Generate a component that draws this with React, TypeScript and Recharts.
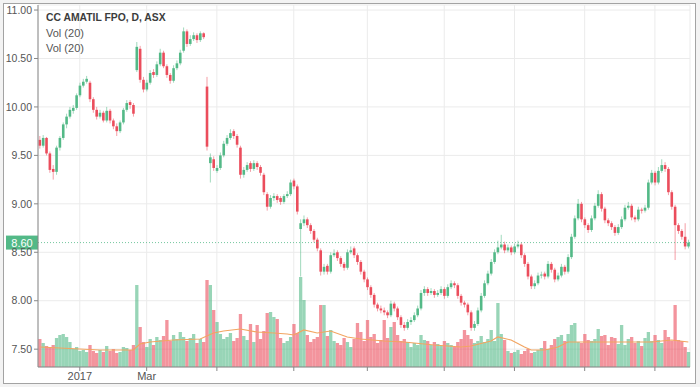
import { ComposedChart, Bar, Line, XAxis, YAxis, CartesianGrid, ReferenceLine } from 'recharts';

// CC AMATIL FPO, daily candles + volume
const opens = [
  9.66, 9.60, 9.68, 9.52, 9.36, 9.33, 9.58, 9.68, 9.82, 9.90,
  9.96, 9.99, 10.12, 10.22, 10.26, 10.25, 10.08, 9.97, 9.90, 9.94,
  9.86, 9.96, 9.86, 9.80, 9.75, 9.84, 9.97, 10.05, 10.02, 10.38,
  10.60, 10.28, 10.18, 10.25, 10.36, 10.33, 10.44, 10.56, 10.42, 10.33,
  10.27, 10.40, 10.45, 10.58, 10.78, 10.65, 10.70, 10.74, 10.69, 10.76,
  10.21, 9.42, 9.46, 9.34, 9.37, 9.50, 9.62, 9.68, 9.75, 9.70,
  9.58, 9.30, 9.35, 9.42, 9.36, 9.42, 9.38, 9.30, 9.10, 8.97,
  9.06, 9.08, 9.06, 9.02, 9.08, 9.10, 9.24, 9.18, 8.74, 8.80,
  8.84, 8.78, 8.72, 8.63, 8.52, 8.30, 8.36, 8.30, 8.47, 8.50,
  8.44, 8.38, 8.34, 8.50, 8.54, 8.47, 8.40, 8.30, 8.22, 8.14,
  8.06, 7.96, 7.92, 7.90, 7.88, 7.85, 7.97, 7.92, 7.83, 7.75,
  7.72, 7.78, 7.80, 7.85, 7.92, 8.08, 8.12, 8.08, 8.10, 8.06,
  8.08, 8.12, 8.05, 8.14, 8.18, 8.16, 8.05, 7.98, 7.96, 7.88,
  7.72, 7.76, 7.90, 8.05, 8.18, 8.28, 8.40, 8.50, 8.55, 8.58,
  8.52, 8.55, 8.50, 8.56, 8.58, 8.47, 8.38, 8.25, 8.15, 8.18,
  8.26, 8.28, 8.25, 8.38, 8.32, 8.22, 8.26, 8.35, 8.30, 8.45,
  8.66, 8.85, 9.00, 8.84, 8.78, 8.73, 8.85, 8.98, 9.10, 8.95,
  8.83, 8.80, 8.76, 8.70, 8.76, 8.84, 8.96, 8.98, 8.86, 8.84,
  8.94, 8.93, 8.96, 9.22, 9.32, 9.22, 9.34, 9.40, 9.36, 9.12,
  8.97, 8.78, 8.72, 8.66, 8.56,
];
const highs = [
  9.70, 9.71, 9.69, 9.54, 9.40, 9.60, 9.70, 9.84, 9.93, 10.00,
  10.02, 10.14, 10.25, 10.29, 10.32, 10.27, 10.10, 10.00, 9.97, 9.96,
  10.00, 9.98, 9.88, 9.83, 9.86, 9.99, 10.07, 10.07, 10.04, 10.67,
  10.63, 10.31, 10.28, 10.38, 10.39, 10.47, 10.60, 10.58, 10.44, 10.35,
  10.43, 10.48, 10.59, 10.82, 10.80, 10.74, 10.77, 10.76, 10.78, 10.77,
  10.31, 9.52, 9.49, 9.40, 9.53, 9.65, 9.71, 9.77, 9.77, 9.72,
  9.60, 9.38, 9.43, 9.44, 9.45, 9.44, 9.40, 9.32, 9.12, 9.09,
  9.11, 9.10, 9.08, 9.10, 9.13, 9.25, 9.26, 9.20, 8.84, 8.88,
  8.86, 8.80, 8.74, 8.65, 8.54, 8.38, 8.38, 8.50, 8.53, 8.52,
  8.46, 8.40, 8.53, 8.56, 8.56, 8.49, 8.42, 8.32, 8.24, 8.16,
  8.08, 7.98, 7.95, 7.93, 7.90, 8.00, 7.99, 7.94, 7.85, 7.78,
  7.81, 7.83, 7.88, 7.95, 8.11, 8.15, 8.14, 8.13, 8.12, 8.11,
  8.15, 8.14, 8.17, 8.21, 8.20, 8.18, 8.07, 8.00, 7.98, 7.90,
  7.79, 7.93, 8.08, 8.21, 8.31, 8.43, 8.53, 8.62, 8.68, 8.61,
  8.58, 8.57, 8.59, 8.62, 8.60, 8.49, 8.40, 8.27, 8.21, 8.29,
  8.30, 8.30, 8.41, 8.40, 8.34, 8.29, 8.38, 8.37, 8.48, 8.69,
  8.88, 9.05, 9.02, 8.86, 8.80, 8.88, 9.01, 9.14, 9.12, 8.97,
  8.85, 8.82, 8.78, 8.79, 8.87, 8.99, 9.02, 9.00, 8.88, 8.97,
  8.96, 8.99, 9.25, 9.35, 9.34, 9.38, 9.46, 9.43, 9.38, 9.14,
  8.99, 8.80, 8.74, 8.80, 8.63,
];
const lows = [
  9.57, 9.58, 9.50, 9.32, 9.25, 9.30, 9.55, 9.66, 9.78, 9.88,
  9.93, 9.97, 10.10, 10.20, 10.24, 10.05, 9.94, 9.87, 9.88, 9.84,
  9.84, 9.83, 9.77, 9.70, 9.73, 9.82, 9.95, 9.98, 9.90, 10.36,
  10.25, 10.15, 10.16, 10.23, 10.30, 10.31, 10.42, 10.40, 10.30, 10.24,
  10.25, 10.38, 10.43, 10.56, 10.62, 10.63, 10.68, 10.66, 10.67, 10.70,
  9.55, 9.22, 9.34, 9.32, 9.35, 9.48, 9.60, 9.66, 9.67, 9.58,
  9.26, 9.27, 9.33, 9.33, 9.34, 9.35, 9.29, 9.09, 8.93, 8.95,
  9.03, 9.01, 8.99, 9.00, 9.06, 9.08, 9.15, 8.89, 8.25, 8.77,
  8.75, 8.69, 8.60, 8.51, 8.26, 8.27, 8.27, 8.28, 8.45, 8.41,
  8.35, 8.31, 8.32, 8.48, 8.44, 8.37, 8.27, 8.19, 8.11, 8.03,
  7.93, 7.89, 7.87, 7.85, 7.82, 7.83, 7.89, 7.80, 7.72, 7.69,
  7.70, 7.75, 7.78, 7.83, 7.90, 8.05, 8.05, 8.06, 8.03, 8.04,
  8.06, 8.02, 8.03, 8.12, 8.13, 8.02, 7.95, 7.93, 7.85, 7.69,
  7.69, 7.74, 7.88, 8.03, 8.16, 8.26, 8.38, 8.48, 8.53, 8.49,
  8.50, 8.47, 8.48, 8.54, 8.44, 8.35, 8.22, 8.12, 8.12, 8.16,
  8.23, 8.22, 8.23, 8.29, 8.19, 8.20, 8.24, 8.27, 8.28, 8.43,
  8.64, 8.83, 8.81, 8.75, 8.70, 8.71, 8.83, 8.96, 8.92, 8.80,
  8.77, 8.73, 8.67, 8.68, 8.74, 8.82, 8.94, 8.83, 8.81, 8.82,
  8.90, 8.91, 8.94, 9.20, 9.19, 9.20, 9.32, 9.33, 9.09, 8.94,
  8.42, 8.69, 8.63, 8.53, 8.54,
];
const closes = [
  9.60, 9.68, 9.52, 9.35, 9.33, 9.58, 9.68, 9.82, 9.90, 9.97,
  9.99, 10.12, 10.22, 10.26, 10.29, 10.08, 9.97, 9.90, 9.94, 9.86,
  9.96, 9.86, 9.80, 9.75, 9.84, 9.97, 10.04, 10.02, 9.93, 10.62,
  10.28, 10.18, 10.25, 10.35, 10.33, 10.44, 10.56, 10.42, 10.33, 10.27,
  10.40, 10.45, 10.56, 10.78, 10.65, 10.70, 10.74, 10.69, 10.76, 10.72,
  9.59, 9.48, 9.37, 9.37, 9.50, 9.62, 9.68, 9.73, 9.70, 9.61,
  9.30, 9.35, 9.40, 9.36, 9.42, 9.38, 9.32, 9.12, 8.97, 9.06,
  9.08, 9.04, 9.02, 9.08, 9.10, 9.22, 9.18, 8.92, 8.80, 8.84,
  8.78, 8.72, 8.63, 8.54, 8.30, 8.35, 8.30, 8.47, 8.49, 8.44,
  8.38, 8.34, 8.50, 8.52, 8.47, 8.40, 8.30, 8.22, 8.14, 8.06,
  7.96, 7.92, 7.90, 7.88, 7.85, 7.97, 7.92, 7.83, 7.75, 7.72,
  7.78, 7.80, 7.85, 7.92, 8.08, 8.12, 8.08, 8.10, 8.06, 8.08,
  8.12, 8.05, 8.14, 8.18, 8.16, 8.05, 7.98, 7.96, 7.88, 7.72,
  7.76, 7.90, 8.05, 8.18, 8.28, 8.40, 8.50, 8.55, 8.58, 8.52,
  8.55, 8.50, 8.56, 8.58, 8.47, 8.38, 8.25, 8.15, 8.18, 8.26,
  8.27, 8.25, 8.38, 8.32, 8.22, 8.26, 8.35, 8.30, 8.45, 8.66,
  8.85, 9.00, 8.84, 8.78, 8.73, 8.85, 8.98, 9.10, 8.95, 8.83,
  8.80, 8.76, 8.70, 8.76, 8.84, 8.96, 8.98, 8.86, 8.84, 8.94,
  8.93, 8.96, 9.22, 9.32, 9.22, 9.34, 9.40, 9.36, 9.12, 8.97,
  8.78, 8.72, 8.66, 8.56, 8.60,
];
// volume, millions of shares
const volumes = [
  2.8, 2.4, 2.1, 2.0, 2.2, 2.9, 3.2, 3.3, 3.0, 2.5,
  1.8, 2.0, 1.6, 1.7, 1.5, 2.2, 1.6, 1.4, 1.7, 1.5,
  2.1, 1.6, 1.8, 1.4, 1.5, 2.0, 1.9, 1.7, 2.2, 8.2,
  4.0, 2.5, 2.0, 2.8, 2.2, 3.0, 2.7, 3.1, 4.7, 2.6,
  3.2, 2.8, 3.5, 3.0, 2.6, 2.9, 3.3, 2.4, 2.8, 2.5,
  8.7, 8.2, 5.7, 4.5, 3.3, 2.8, 3.0, 3.4, 2.6, 2.9,
  5.3, 3.1, 2.7, 4.3, 2.5, 4.2, 2.8, 3.6, 5.4, 5.5,
  5.0, 4.8, 2.9, 2.4, 2.6, 3.0, 4.3, 3.4, 9.0, 6.7,
  3.2, 2.5, 2.8, 3.0, 6.2, 6.2, 3.1, 3.7, 2.6, 2.4,
  2.2, 2.9, 2.5, 2.0, 2.8, 4.4, 3.5, 2.6, 4.7, 3.0,
  3.3, 2.4, 2.7, 4.7, 2.9, 4.0, 4.5, 3.2, 2.6, 2.8,
  2.5, 2.0, 2.4, 2.2, 3.2, 2.7, 2.6, 2.2, 2.5, 2.3,
  2.1, 2.6, 2.4, 2.2, 2.0, 2.5, 2.8, 3.7, 3.2, 2.8,
  2.4, 2.6, 3.1, 2.5, 2.8, 3.7, 2.6, 6.4, 3.3, 2.7,
  1.6, 1.4, 1.5, 1.7, 1.3, 1.6, 1.8, 1.4, 1.5, 1.7,
  1.9, 2.6, 1.8, 2.2, 2.8, 3.0, 3.2, 2.6, 3.3, 4.2,
  4.4, 2.5, 2.4, 3.3, 2.7, 2.6, 2.8, 3.8, 3.1, 3.2,
  2.2, 3.0, 2.9, 2.3, 4.2, 2.2, 2.8, 3.0, 2.4, 2.6,
  2.1, 2.9, 3.5, 2.6, 3.2, 2.7, 2.4, 3.7, 3.0, 2.6,
  6.2, 2.7, 2.6, 2.0, 1.5,
];
// Vol(20) average, read at a handful of points
const maIdx = [0, 6, 12, 18, 24, 28, 30, 33, 40, 48, 52, 55, 60, 65, 70, 74, 76, 79, 83, 87, 92, 96, 103, 109, 118, 126, 129, 135, 137, 141, 145, 147, 151, 155, 158, 163, 173, 183, 189, 194];
const maVals = [2.0, 1.9, 1.8, 1.7, 1.7, 1.7, 2.3, 2.5, 2.7, 2.8, 3.4, 3.6, 3.8, 3.5, 3.4, 3.3, 3.2, 3.7, 3.4, 3.6, 3.0, 2.8, 2.6, 2.5, 2.2, 2.0, 2.1, 2.6, 3.0, 2.7, 2.0, 1.7, 1.7, 2.0, 2.5, 2.5, 2.5, 2.5, 2.7, 2.5];

const xTickIdx = [12, 32, 53, 76, 98, 121, 142, 163, 184];
const xTickLabels = ['2017', 'Mar', '', '', '', '', '', '', ''];
const priceTicks = [7.5, 8, 8.5, 9, 9.5, 10, 10.5, 11];
const lastPrice = 8.6;

const UP = '#53b987';
const DOWN = '#eb4d5c';
const FONT = "'Liberation Sans Narrow', 'Liberation Sans', Arial, sans-serif";

const data = closes.map((c, i) => ({
  idx: i,
  open: opens[i],
  high: highs[i],
  low: lows[i],
  close: c,
  vol: volumes[i],
  ma: maIdx.includes(i) ? maVals[maIdx.indexOf(i)] : null,
}));

const Candle = (props: any) => {
  const { x, y, width, height, payload } = props;
  if (!payload) return null;
  const { open, close, high, low } = payload;
  const top = Math.min(y, y + height);
  const h = Math.abs(height);
  const k = h / (high - low);
  const py = (v: number) => top + (high - v) * k;
  const color = close >= open ? UP : DOWN;
  const cx = x + width / 2;
  const bTop = py(Math.max(open, close));
  const bH = Math.max(1, Math.abs(py(open) - py(close)));
  return (
    <g>
      <line x1={cx} x2={cx} y1={top} y2={top + h} stroke={color} strokeOpacity={0.55} strokeWidth={1} />
      <rect x={cx - 1.3} y={bTop} width={2.6} height={bH} fill={color} />
    </g>
  );
};

const VolBar = (props: any) => {
  const { x, y, width, height, payload } = props;
  if (!payload) return null;
  const color = payload.close >= payload.open ? UP : DOWN;
  const cx = x + width / 2;
  return <rect x={cx - 1.65} y={y} width={3.3} height={Math.max(0, height)} fill={color} fillOpacity={0.6} />;
};

const PriceTag = (props: any) => {
  const { viewBox, price } = props;
  if (!viewBox) return null;
  return (
    <g>
      <rect x={viewBox.x - 32} y={viewBox.y - 7} width={32} height={14} fill={UP} />
      <text x={viewBox.x - 16} y={viewBox.y + 4} textAnchor="middle" fill="#fff" fontSize={11} fontFamily={FONT}>
        {price.toFixed(2)}
      </text>
    </g>
  );
};

export default function App() {
  return (
    <div style={{ position: 'absolute', left: 0, top: 0, width: 700, height: 387, background: '#f3f3f3', overflow: 'hidden' }}>
      <div style={{ position: 'absolute', left: 3, top: 3, width: 691, height: 379, border: '1px solid #a3a3a3', background: '#fff' }} />
      <div style={{ position: 'absolute', left: 0, top: 0 }}>
        <ComposedChart width={700} height={387} data={data} margin={{ top: 5, right: 10, bottom: 0, left: 0 }}>
          <CartesianGrid xAxisId="p" yAxisId="p" stroke="#ebebeb" />
          <XAxis
            xAxisId="p"
            dataKey="idx"
            type="category"
            ticks={xTickIdx}
            interval={0}
            tickFormatter={(v) => xTickLabels[xTickIdx.indexOf(v)] ?? ''}
            height={20}
            tickSize={4}
            tickMargin={1}
            stroke="#888"
            tick={{ fontSize: 11, fill: '#555', fontFamily: FONT }}
          />
          <XAxis xAxisId="v" dataKey="idx" type="category" hide />
          <YAxis
            yAxisId="p"
            domain={[7.316, 11.052]}
            allowDataOverflow
            ticks={priceTicks}
            tickFormatter={(v) => v.toFixed(2)}
            width={38}
            tickSize={4}
            tickMargin={2}
            stroke="#888"
            tick={{ fontSize: 10.5, fill: '#555', fontFamily: FONT }}
          />
          <YAxis yAxisId="v" hide domain={[0, 36.2]} allowDataOverflow />
          <Bar xAxisId="v" yAxisId="v" dataKey="vol" shape={<VolBar />} isAnimationActive={false} />
          <Line
            xAxisId="v"
            yAxisId="v"
            dataKey="ma"
            connectNulls
            dot={false}
            stroke="#f2a561"
            strokeWidth={1.2}
            isAnimationActive={false}
          />
          <ReferenceLine
            xAxisId="p"
            yAxisId="p"
            y={lastPrice}
            stroke={UP}
            strokeOpacity={0.8}
            strokeDasharray="1 2"
            label={<PriceTag price={lastPrice} />}
          />
          <Bar
            xAxisId="p"
            yAxisId="p"
            dataKey={(d: any) => [d.low, d.high]}
            shape={<Candle />}
            isAnimationActive={false}
          />
        </ComposedChart>
      </div>
      <div style={{ position: 'absolute', left: 46, top: 10, fontFamily: FONT, fontSize: 11.5, fontWeight: 'bold', color: '#3c3c3c', lineHeight: '14px', transform: 'scaleX(0.9)', transformOrigin: 'left top', whiteSpace: 'nowrap' }}>
        CC AMATIL FPO, D, ASX
      </div>
      <div style={{ position: 'absolute', left: 46, top: 26, fontFamily: 'Liberation Sans, Arial, sans-serif', fontSize: 11, color: '#555', lineHeight: '14px' }}>
        Vol (20)
      </div>
      <div style={{ position: 'absolute', left: 46, top: 41, fontFamily: 'Liberation Sans, Arial, sans-serif', fontSize: 11, color: '#555', lineHeight: '14px' }}>
        Vol (20)
      </div>
    </div>
  );
}
